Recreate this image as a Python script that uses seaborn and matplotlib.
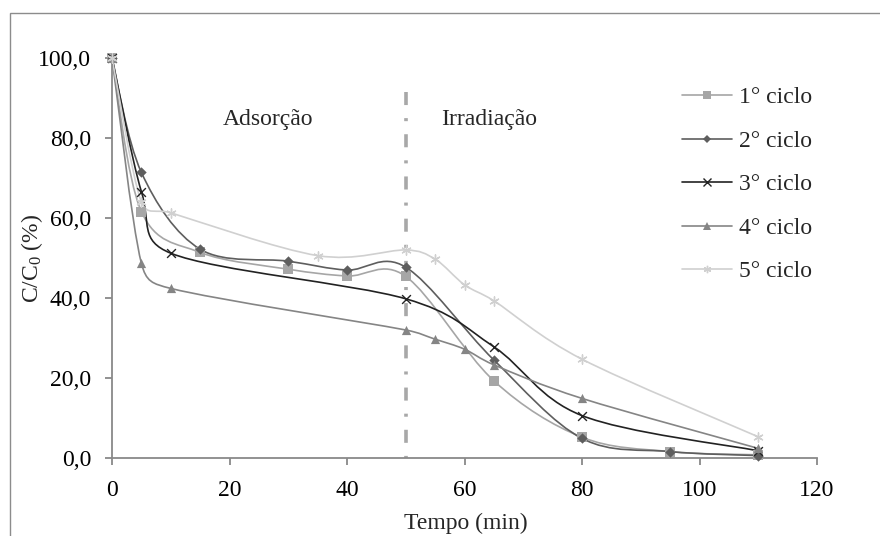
import numpy as np
import matplotlib
matplotlib.use('Agg')
import matplotlib.pyplot as plt
import seaborn as sns
from matplotlib.path import Path
from matplotlib.patches import PathPatch, Rectangle
from matplotlib.lines import Line2D
from matplotlib.ticker import FuncFormatter, MultipleLocator

# dados (tempo em min, C/C0 em %)
t_ciclo1 = [0, 5, 15, 30, 40, 50, 65, 80, 95, 110]
c_ciclo1 = [100.0, 61.6, 51.4, 47.2, 45.5, 45.4, 19.3, 5.2, 1.6, 0.8]

t_ciclo2 = [0, 5, 15, 30, 40, 50, 65, 80, 95, 110]
c_ciclo2 = [100.0, 71.4, 52.2, 49.2, 47.0, 47.7, 24.5, 4.9, 1.6, 0.6]

t_ciclo3 = [0, 5, 10, 50, 65, 80, 110]
c_ciclo3 = [100.0, 66.6, 51.2, 39.8, 27.8, 10.6, 1.8]

t_ciclo4 = [0, 5, 10, 50, 55, 60, 65, 80, 110]
c_ciclo4 = [100.0, 48.7, 42.4, 32.0, 29.7, 27.2, 23.3, 14.9, 2.4]

t_ciclo5 = [0, 5, 10, 35, 50, 55, 60, 65, 80, 110]
c_ciclo5 = [100.0, 64.0, 61.3, 50.6, 52.0, 49.7, 43.3, 39.3, 24.7, 5.3]

rotulos = ['1° ciclo', '2° ciclo', '3° ciclo', '4° ciclo', '5° ciclo']
cores = ['#A6A6A6', '#5E5E5E', '#222222', '#858585', '#D0D0D0']
marcadores = ['s', 'D', 'x', '^', (6, 2, 0)]
tamanhos = [42, 28, 40, 44, 44]

inicio_irradiacao = 50
topo_linha = 91.5

# escala em pixels por unidade (para a suavização tipo Excel)
ESC_X = 705 / 120
ESC_Y = 400 / 100


def curva_suave(x, y, limite=0.5):
    # bezier com tangentes de Catmull-Rom, limitadas ao tamanho do segmento
    p = np.column_stack([np.asarray(x) * ESC_X, np.asarray(y) * ESC_Y]).astype(float)
    n = len(p)
    tang = []
    for i in range(n):
        a = p[i - 1] if i > 0 else p[i]
        b = p[i + 1] if i + 1 < n else p[i]
        tang.append((b - a) / 6.0)
    verts = [p[0]]
    codes = [Path.MOVETO]
    for i in range(n - 1):
        seg = np.linalg.norm(p[i + 1] - p[i])
        t1, t2 = tang[i].copy(), tang[i + 1].copy()
        for t in (t1, t2):
            L = np.linalg.norm(t)
            if L > limite * seg:
                t *= limite * seg / L
        verts += [p[i] + t1, p[i + 1] - t2, p[i + 1]]
        codes += [Path.CURVE4] * 3
    verts = np.array(verts) / [ESC_X, ESC_Y]
    return Path(verts, codes)


sns.set_style('white')
plt.rcParams['font.family'] = ['Liberation Serif', 'DejaVu Serif']
plt.rcParams['mathtext.fontset'] = 'custom'
plt.rcParams['mathtext.rm'] = 'Liberation Serif'
plt.rcParams['mathtext.it'] = 'Liberation Serif'
plt.rcParams['lines.scale_dashes'] = False

fig = plt.figure(figsize=(8.8, 5.36), dpi=100)
ax = fig.add_axes([112 / 880, 78 / 536, 705 / 880, 400 / 536])

series = [(t_ciclo1, c_ciclo1), (t_ciclo2, c_ciclo2), (t_ciclo3, c_ciclo3),
          (t_ciclo4, c_ciclo4), (t_ciclo5, c_ciclo5)]

# linha tracejada separando adsorção / irradiação
ax.plot([inicio_irradiacao, inicio_irradiacao], [topo_linha, 0], color='#A8A8A8',
        lw=2.6, linestyle=(0, (9.4, 9.4, 2.2, 9.4)), solid_capstyle='butt',
        dash_capstyle='butt', zorder=1)

ordem = [4, 0, 3, 1, 2]
for k in ordem:
    x, y = series[k]
    patch = PathPatch(curva_suave(x, y), facecolor='none', edgecolor=cores[k],
                      lw=1.2, zorder=2 + k * 0.1, clip_on=False)
    ax.add_patch(patch)
    lw_m = 1.0 if marcadores[k] in ('x', (6, 2, 0)) else 0
    sns.scatterplot(x=x, y=y, ax=ax, marker=marcadores[k], s=tamanhos[k],
                    color=cores[k], edgecolor=cores[k], linewidth=lw_m,
                    zorder=3 + k * 0.1, clip_on=False, legend=False)

handles = []
for k in range(5):
    handles.append(Line2D([], [], color=cores[k], lw=1.2, marker=marcadores[k],
                          markersize=np.sqrt(tamanhos[k]) * 0.8,
                          markeredgewidth=1.0 if marcadores[k] in ('x', (6, 2, 0)) else 0,
                          markeredgecolor=cores[k], label=rotulos[k]))

ax.set_xlim(0, 120)
ax.set_ylim(0, 100)
ax.xaxis.set_major_locator(MultipleLocator(20))
ax.yaxis.set_major_locator(MultipleLocator(20))
ax.yaxis.set_major_formatter(FuncFormatter(lambda v, p: f'{v:.1f}'.replace('.', ',')))

for lado in ['top', 'right']:
    ax.spines[lado].set_visible(False)
for lado in ['left', 'bottom']:
    ax.spines[lado].set_color('#898989')
    ax.spines[lado].set_linewidth(1.3)

ax.tick_params(axis='both', direction='out', length=5, width=1.3, color='#898989',
               labelsize=17, labelcolor='black', bottom=True, left=True)
ax.tick_params(axis='y', pad=10)
ax.tick_params(axis='x', pad=11)

ax.set_xlabel('Tempo (min)', fontsize=17)
ax.set_ylabel('C/C$_0$ (%)', fontsize=17)
ax.xaxis.set_label_coords(0.502, -0.138)
ax.yaxis.set_label_coords(-0.095, 0.5)

ax.text(26.6, 84.5, 'Adsorção', fontsize=17, ha='center', va='center')
ax.text(64.2, 84.5, 'Irradiação', fontsize=17, ha='center', va='center')

ax.legend(handles=handles, loc='upper left', bbox_to_anchor=(0.808, 0.928),
          bbox_transform=ax.transAxes, frameon=False, fontsize=17,
          handlelength=2.15, handletextpad=0.3, labelspacing=0.93,
          borderpad=0, borderaxespad=0)

# moldura externa do gráfico
fig.patches.append(Rectangle((10 / 880, -0.2), 1.5, 1.2 - 13 / 536,
                             transform=fig.transFigure, fill=False,
                             edgecolor='#8C8C8C', lw=1.0))

fig.savefig('out.png', dpi=100)
